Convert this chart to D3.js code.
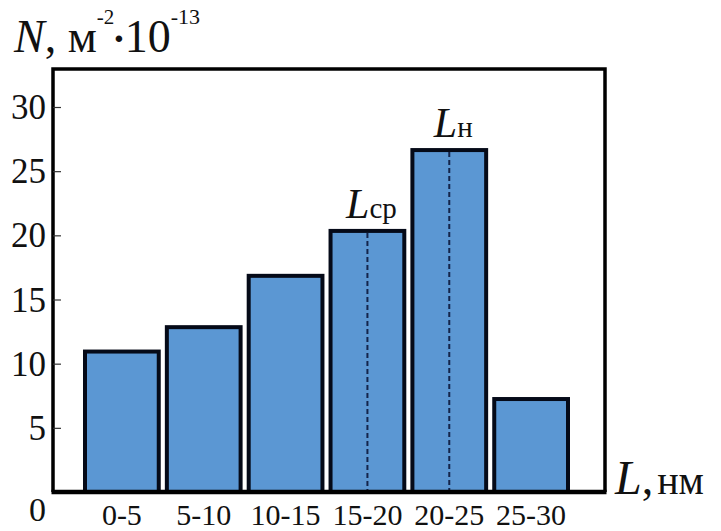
<!DOCTYPE html>
<html lang="ru">
<head>
<meta charset="UTF-8">
<title>N(L)</title>
<script src="https://cdn.jsdelivr.net/npm/d3@7"></script>
<style>
  body { margin: 0; background: #fff; }
</style>
</head>
<body>
<svg width="721" height="531" id="chart" font-family="'Liberation Serif', 'DejaVu Serif', serif"></svg>
<script>
    // data
    const categories = ['0-5', '5-10', '10-15', '15-20', '20-25', '25-30'];
    const values = [11.1, 13.0, 17.0, 20.5, 26.8, 7.4];
    const yTicks = [5, 10, 15, 20, 25, 30];
    const markedCats = ['15-20', '20-25'];
    const markedSubs = ['ср', 'н'];

    const serif = "'Liberation Serif', 'DejaVu Serif', serif";
    const svg = d3.select('#chart');
    const frame = {left: 53, right: 605, top: 69, bottom: 492};

    const x = d3.scaleBand().domain(categories).range([83, 570]).paddingInner(0.05);
    const y = d3.scaleLinear().domain([0, 30]).range([frame.bottom, 107]);

    const barColor = '#5b97d3';
    const edge = '#050a18';
    const sw = 4;

    // bars
    svg.append('g').selectAll('rect').data(values).join('rect')
        .attr('x', (d, i) => x(categories[i]) + sw / 2)
        .attr('y', d => y(d) + sw / 2)
        .attr('width', x.bandwidth() - sw)
        .attr('height', d => frame.bottom - y(d) - sw / 2)
        .attr('fill', barColor)
        .attr('stroke', edge)
        .attr('stroke-width', sw);

    // dashed lines in marked bars
    svg.append('g').selectAll('line').data(markedCats).join('line')
        .attr('x1', c => x(c) + x.bandwidth() / 2)
        .attr('x2', c => x(c) + x.bandwidth() / 2)
        .attr('y1', c => y(values[categories.indexOf(c)]) + sw)
        .attr('y2', frame.bottom)
        .attr('stroke', '#14244a')
        .attr('stroke-width', 2)
        .attr('stroke-dasharray', '5,3');

    // labels above marked bars
    markedCats.forEach((c, k) => {
        const t = svg.append('text')
            .attr('font-family', serif).attr('fill', '#111')
            .attr('x', x(c) + x.bandwidth() / 2 + 4)
            .attr('y', y(values[categories.indexOf(c)]) - 11)
            .attr('text-anchor', 'middle');
        t.append('tspan').attr('font-style', 'italic').attr('font-size', 42).text('L');
        t.append('tspan').attr('font-size', 29).text(markedSubs[k]);
    });

    // frame
    svg.append('path')
        .attr('d', `M${frame.left},${frame.bottom} V${frame.top} H${frame.right} V${frame.bottom}`)
        .attr('fill', 'none').attr('stroke', '#000').attr('stroke-width', 3.5);
    svg.append('line')
        .attr('x1', frame.left - 1.5).attr('x2', frame.right + 1.5)
        .attr('y1', frame.bottom).attr('y2', frame.bottom)
        .attr('stroke', '#000').attr('stroke-width', 4.5);

    // y axis
    const yAxis = d3.axisRight(y).tickValues(yTicks).tickSize(8).tickFormat('');
    const ya = svg.append('g').attr('transform', `translate(${frame.left},0)`).call(yAxis);
    ya.select('.domain').remove();
    ya.selectAll('.tick line').attr('stroke', '#333').attr('stroke-width', 1.2);

    svg.append('g').attr('font-family', serif).attr('fill', '#111')
        .selectAll('text').data(yTicks).join('text')
        .attr('x', 46).attr('y', d => y(d) + 12)
        .attr('text-anchor', 'end').attr('font-size', 35)
        .text(d => d);
    svg.append('text').attr('font-family', serif).attr('fill', '#111')
        .attr('x', 46).attr('y', 521)
        .attr('text-anchor', 'end').attr('font-size', 34).text('0');

    // x axis labels
    const xAxis = d3.axisBottom(x).tickSize(0).tickPadding(0);
    const xa = svg.append('g').attr('transform', `translate(0,${frame.bottom})`).call(xAxis);
    xa.select('.domain').remove();
    xa.attr('font-family', serif);
    xa.selectAll('.tick text')
        .attr('y', 33).attr('dy', null)
        .attr('font-size', 30)
        .attr('fill', '#111');

    // axis titles
    const xt = svg.append('text').attr('font-family', serif).attr('fill', '#111')
        .attr('x', 615).attr('y', 494);
    xt.append('tspan').attr('font-style', 'italic').attr('font-size', 48).text('L');
    xt.append('tspan').attr('font-size', 46).text(',');
    xt.append('tspan').attr('font-size', 40).attr('dx', 4).text('нм');

    // N, м^-2 · 10^-13 as one flowing line
    const yt = svg.append('text').attr('font-family', serif).attr('fill', '#111')
        .attr('x', 14).attr('y', 52);
    yt.append('tspan').attr('font-style', 'italic').attr('font-size', 46).text('N');
    yt.append('tspan').attr('font-size', 46).text(', м');
    yt.append('tspan').attr('font-size', 21).attr('dy', -28).text('-2');
    yt.append('tspan').attr('font-size', 40).attr('font-weight', 'bold').attr('dy', 28).attr('dx', -2).text('·');
    yt.append('tspan').attr('font-size', 46).attr('dx', -1).text('10');
    yt.append('tspan').attr('font-size', 22).attr('dy', -28).text('-13');
</script>
</body>
</html>
